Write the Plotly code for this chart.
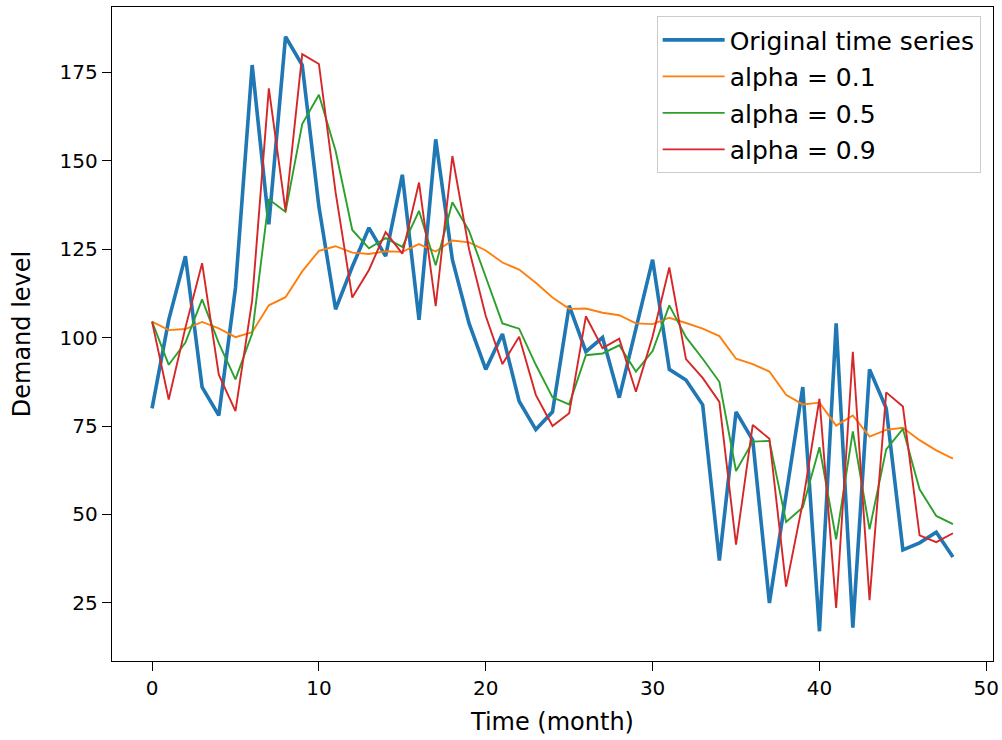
import plotly.graph_objects as go

months = list(range(49))

original = [80, 105, 123, 86, 78, 114, 177, 132, 185, 177, 137, 108, 120, 131, 123, 146,
            105, 156, 122, 104, 91, 101, 82, 74, 79, 109, 96, 100, 83, 102, 122, 91,
            88, 81, 37, 79, 71, 25, 56, 86, 17, 104, 18, 91, 80, 40, 42, 45, 38]

alpha_01 = [104.5, 102.1, 102.4, 104.4, 102.6, 100.1, 101.5, 109.1, 111.4, 118.7, 124.5,
            125.8, 124.0, 123.6, 124.4, 124.2, 126.4, 124.3, 127.4, 126.9, 124.6, 121.2,
            119.2, 115.5, 111.3, 108.1, 108.2, 107.0, 106.3, 104.0, 103.8, 105.6, 104.1,
            102.5, 100.4, 94.0, 92.5, 90.4, 83.8, 81.1, 81.6, 75.1, 78.0, 72.0, 73.9,
            74.5, 71.0, 68.1, 65.8]

alpha_05 = [104.5, 92.3, 98.6, 110.8, 98.4, 88.2, 101.1, 139.1, 135.5, 160.3, 168.6,
            152.8, 130.4, 125.2, 128.1, 125.6, 135.8, 120.4, 138.2, 130.1, 117.1, 104.0,
            102.5, 92.3, 83.1, 81.1, 95.0, 95.5, 97.8, 90.4, 96.2, 109.1, 100.1, 94.0,
            87.5, 62.3, 70.6, 70.8, 47.9, 52.0, 69.0, 43.0, 73.5, 45.8, 68.4, 74.2,
            57.1, 49.6, 47.3]

alpha_09 = [104.5, 82.5, 102.8, 121.0, 89.5, 79.2, 110.5, 170.4, 135.8, 180.1, 177.3,
            141.0, 111.3, 119.1, 129.8, 123.7, 143.8, 108.9, 151.3, 124.9, 106.1, 92.5,
            100.2, 83.8, 75.0, 78.6, 106.0, 97.0, 99.7, 84.7, 100.3, 119.8, 93.9, 88.6,
            81.8, 41.5, 75.3, 71.4, 29.6, 53.4, 82.7, 23.6, 96.0, 25.8, 84.5, 80.5,
            44.1, 42.2, 44.7]

x_ticks = [0, 10, 20, 30, 40, 50]
y_ticks = [25, 50, 75, 100, 125, 150, 175]

FONT = "DejaVu Sans"
TICK_FS = 20
LABEL_FS = 24
LEGEND_FS = 25

fig = go.Figure()
fig.add_trace(go.Scatter(x=months, y=original, mode="lines", name="Original time series",
                         legendgroup="g0", line=dict(color="#1f77b4", width=3.6)))
fig.add_trace(go.Scatter(x=months, y=alpha_01, mode="lines", name="alpha = 0.1",
                         legendgroup="g1", line=dict(color="#ff7f0e", width=1.9)))
fig.add_trace(go.Scatter(x=months, y=alpha_05, mode="lines", name="alpha = 0.5",
                         legendgroup="g2", line=dict(color="#2ca02c", width=1.9)))
fig.add_trace(go.Scatter(x=months, y=alpha_09, mode="lines", name="alpha = 0.9",
                         legendgroup="g3", line=dict(color="#d62728", width=1.9)))

axis_common = dict(showline=True, linecolor="black", linewidth=1.4, mirror=True,
                   ticks="outside", ticklen=9, tickwidth=1.4, tickcolor="black",
                   showgrid=False, zeroline=False, automargin=False,
                   ticklabeloverflow="allow",
                   tickfont=dict(family=FONT, size=TICK_FS, color="black"))

fig.update_xaxes(range=[-2.4, 50.4], tickvals=x_ticks,
                 title=dict(text="Time (month)",
                            font=dict(family=FONT, size=LABEL_FS, color="black"),
                            standoff=13),
                 **axis_common)
fig.update_yaxes(range=[8.6, 193.4], tickvals=y_ticks,
                 title=dict(text="Demand level",
                            font=dict(family=FONT, size=LABEL_FS, color="black"),
                            standoff=22),
                 **axis_common)

fig.update_layout(
    width=1002, height=740,
    margin=dict(l=112, r=9, t=7, b=79, autoexpand=False),
    paper_bgcolor="white", plot_bgcolor="white",
    font=dict(family=FONT, size=TICK_FS, color="black"),
    legend=dict(x=0.986, y=0.986, xanchor="right", yanchor="top",
                bgcolor="rgba(255,255,255,0.8)", bordercolor="#cccccc", borderwidth=1,
                font=dict(family=FONT, size=LEGEND_FS, color="black"),
                itemwidth=62, tracegroupgap=1),
    showlegend=True,
)

fig.write_html("out.html",
               config={"displayModeBar": False},
               post_script="document.body.style.margin='0';document.body.style.overflow='hidden';")
